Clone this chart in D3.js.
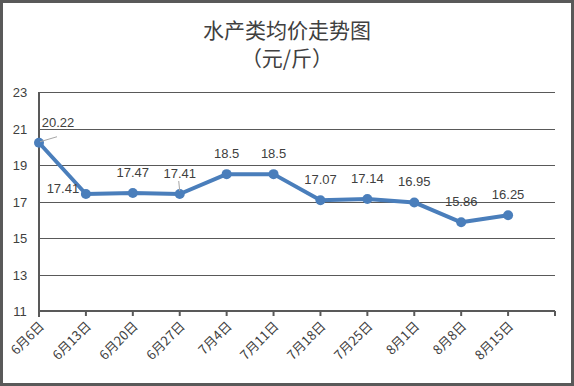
<!DOCTYPE html>
<html>
<head>
<meta charset="utf-8">
<script src="https://cdn.jsdelivr.net/npm/d3@7"></script>
<style>
  body { margin: 0; background: #fff; }
  svg { display: block; font-family: "Noto Sans CJK SC", "Liberation Sans", sans-serif; }
</style>
</head>
<body>
<script>
var dates = ["6月6日", "6月13日", "6月20日", "6月27日", "7月4日", "7月11日",
             "7月18日", "7月25日", "8月1日", "8月8日", "8月15日"];
var prices = [20.22, 17.41, 17.47, 17.41, 18.5, 18.5, 17.07, 17.14, 16.95, 15.86, 16.25];
var yTicks = [11, 13, 15, 17, 19, 21, 23];

var width = 574, height = 386;
var plotLeft = 39, plotRight = 555, plotTop = 92, plotBottom = 311;

var svg = d3.select("body").append("svg")
    .attr("width", width)
    .attr("height", height);

// outer frame
svg.append("rect")
    .attr("x", 1.5).attr("y", 1.5)
    .attr("width", width - 3).attr("height", height - 3)
    .attr("fill", "#fff")
    .attr("stroke", "#595959")
    .attr("stroke-width", 3);

svg.append("text").text("水产类均价走势图")
    .attr("x", 287).attr("y", 38)
    .attr("text-anchor", "middle").attr("font-size", "21px").attr("fill", "#404040");
svg.append("text").text("（元/斤）")
    .attr("x", 287).attr("y", 66)
    .attr("text-anchor", "middle").attr("font-size", "21px").attr("fill", "#404040");

// one empty slot after the last date, like the original axis
var x = d3.scaleLinear().domain([0, dates.length]).range([plotLeft, plotRight]);
var y = d3.scaleLinear().domain([11, 23]).range([plotBottom, plotTop]);

// grid lines
svg.selectAll(".grid")
    .data(yTicks.slice(1))
    .enter().append("line")
    .attr("x1", plotLeft).attr("x2", plotRight)
    .attr("y1", function(d) { return Math.round(y(d)) + 0.5; })
    .attr("y2", function(d) { return Math.round(y(d)) + 0.5; })
    .style("stroke", "#595959")
    .style("stroke-width", 1);

// y labels
svg.selectAll(".ylab")
    .data(yTicks)
    .enter().append("text")
    .text(function(d) { return d; })
    .attr("x", 20)
    .attr("y", function(d) { return y(d) + 5; })
    .attr("text-anchor", "middle")
    .attr("font-size", "13px")
    .attr("font-family", "Liberation Sans, sans-serif")
    .attr("fill", "#404040");

// axes
svg.append("line")
    .attr("x1", plotLeft).attr("x2", plotRight)
    .attr("y1", plotBottom).attr("y2", plotBottom)
    .style("stroke", "#595959").style("stroke-width", 2);
svg.append("line")
    .attr("x1", plotLeft).attr("x2", plotLeft)
    .attr("y1", plotTop).attr("y2", plotBottom + 6)
    .style("stroke", "#595959").style("stroke-width", 2);

svg.selectAll(".tick")
    .data(d3.range(1, dates.length + 1))
    .enter().append("line")
    .attr("x1", function(d) { return x(d); })
    .attr("x2", function(d) { return x(d); })
    .attr("y1", plotBottom).attr("y2", plotBottom + 5)
    .style("stroke", "#595959").style("stroke-width", 2);

// rotated date labels
svg.selectAll(".xlab")
    .data(dates)
    .enter().append("text")
    .text(function(d) { return d; })
    .attr("transform", function(d, i) {
        return "translate(" + (x(i) + 6) + "," + (plotBottom + 16) + ") rotate(-45)";
    })
    .attr("text-anchor", "end")
    .attr("font-size", "13px")
    .attr("fill", "#404040");

// line
var line = d3.line()
    .x(function(d, i) { return x(i); })
    .y(function(d) { return y(d); });

svg.append("path")
    .datum(prices)
    .attr("d", line)
    .attr("fill", "none")
    .attr("stroke", "#4a7ebb")
    .attr("stroke-width", 4)
    .attr("stroke-linejoin", "round");

svg.selectAll(".dot")
    .data(prices)
    .enter().append("circle")
    .attr("cx", function(d, i) { return x(i); })
    .attr("cy", function(d) { return y(d); })
    .attr("r", 5)
    .attr("fill", "#4a7ebb");

// leader lines for the two moved labels
svg.append("line")
    .attr("x1", x(0) + 1).attr("y1", y(prices[0]) - 1)
    .attr("x2", x(0) + 18).attr("y2", y(prices[0]) - 6)
    .style("stroke", "#a6a6a6").style("stroke-width", 1);
svg.append("line")
    .attr("x1", x(3)).attr("y1", y(prices[3]) - 3)
    .attr("x2", x(3) - 1).attr("y2", y(prices[3]) - 13)
    .style("stroke", "#a6a6a6").style("stroke-width", 1);

// data labels
var labelDx = [19, -23, 0, 0, 0, 0, 0, 0, 0, 0, 0];
var labelDy = [-16, -1, -16, -16, -16, -16, -16, -16, -16, -16, -16];

svg.selectAll(".vlab")
    .data(prices)
    .enter().append("text")
    .text(function(d) { return d; })
    .attr("x", function(d, i) { return x(i) + labelDx[i]; })
    .attr("y", function(d, i) { return y(d) + labelDy[i]; })
    .attr("text-anchor", "middle")
    .attr("font-size", "13px")
    .attr("font-family", "Liberation Sans, sans-serif")
    .attr("fill", "#404040");
</script>
</body>
</html>
